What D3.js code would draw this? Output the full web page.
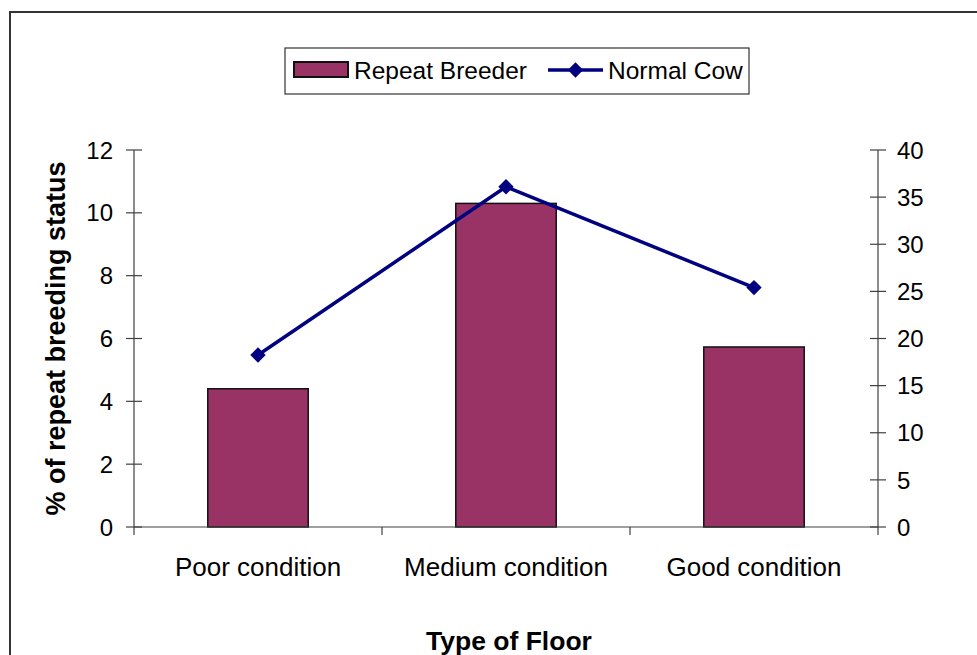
<!DOCTYPE html>
<html>
<head>
<meta charset="utf-8">
<script src="https://cdn.jsdelivr.net/npm/d3@7"></script>
<style>
  body { margin: 0; background: #fff; }
  svg text { font-family: "Liberation Sans", Arial, sans-serif; fill: #000; }
</style>
</head>
<body>
<svg id="chart" width="977" height="655"></svg>
<script>
// data
const floors = ["Poor condition", "Medium condition", "Good condition"];
const repeatBreeder = [4.4, 10.3, 5.73];
const normalCow = [18.25, 36.1, 25.4];
const leftTicks = [0, 2, 4, 6, 8, 10, 12];
const rightTicks = [0, 5, 10, 15, 20, 25, 30, 35, 40];

const svg = d3.select("#chart");
const axisColor = "#404040";

// outer frame (runs off the right and bottom edges)
svg.append("rect")
    .attr("x", 10).attr("y", 12)
    .attr("width", 1000).attr("height", 700)
    .attr("fill", "none").attr("stroke", "#333").attr("stroke-width", 2);

const plot = {left: 134, right: 878, top: 150, bottom: 527};

const x = d3.scaleBand().domain(floors).range([plot.left, plot.right]);
const yL = d3.scaleLinear().domain([0, 12]).range([plot.bottom, plot.top]);
const yR = d3.scaleLinear().domain([0, 40]).range([plot.bottom, plot.top]);

// bars
const barW = x.bandwidth() * 0.405;
svg.append("g").selectAll("rect")
    .data(repeatBreeder)
    .join("rect")
    .attr("x", (d, i) => x(floors[i]) + (x.bandwidth() - barW) / 2)
    .attr("y", d => yL(d))
    .attr("width", barW)
    .attr("height", d => yL(0) - yL(d))
    .attr("fill", "#993366")
    .attr("stroke", "#111")
    .attr("stroke-width", 1.5);

// axes
const axes = svg.append("g").attr("stroke", axisColor).attr("stroke-width", 1.2);
axes.append("line").attr("x1", plot.left).attr("x2", plot.left).attr("y1", plot.top).attr("y2", plot.bottom + 8);
axes.append("line").attr("x1", plot.right).attr("x2", plot.right).attr("y1", plot.top).attr("y2", plot.bottom + 8);
axes.append("line").attr("x1", plot.left).attr("x2", plot.right).attr("y1", plot.bottom).attr("y2", plot.bottom);

axes.selectAll(".lt").data(leftTicks).join("line")
    .attr("x1", plot.left - 8).attr("x2", plot.left + 8)
    .attr("y1", d => yL(d)).attr("y2", d => yL(d));
axes.selectAll(".rt").data(rightTicks).join("line")
    .attr("class", "rt")
    .attr("x1", plot.right - 8).attr("x2", plot.right + 8)
    .attr("y1", d => yR(d)).attr("y2", d => yR(d));
// category separators
axes.selectAll(".ct").data(floors.slice(1)).join("line")
    .attr("class", "ct")
    .attr("x1", d => x(d)).attr("x2", d => x(d))
    .attr("y1", plot.bottom).attr("y2", plot.bottom + 8);

svg.append("g").selectAll("text").data(leftTicks).join("text")
    .attr("x", plot.left - 21).attr("y", d => yL(d))
    .attr("dy", "0.36em")
    .attr("text-anchor", "end")
    .style("font-size", "24px")
    .text(d => d);

svg.append("g").selectAll("text").data(rightTicks).join("text")
    .attr("x", plot.right + 19).attr("y", d => yR(d))
    .attr("dy", "0.36em")
    .style("font-size", "24px")
    .text(d => d);

svg.append("g").selectAll("text").data(floors).join("text")
    .attr("x", d => x(d) + x.bandwidth() / 2).attr("y", 576)
    .attr("text-anchor", "middle")
    .style("font-size", "26px")
    .text(d => d);

// line series on right axis
const cx = (d, i) => x(floors[i]) + x.bandwidth() / 2;
svg.append("path")
    .datum(normalCow)
    .attr("d", d3.line().x(cx).y(d => yR(d)))
    .attr("fill", "none")
    .attr("stroke", "#000080")
    .attr("stroke-width", 3.5);

const diamond = d3.symbol().type(d3.symbolDiamond2).size(150);
svg.append("g").selectAll("path").data(normalCow).join("path")
    .attr("transform", (d, i) => `translate(${cx(d, i)},${yR(d)})`)
    .attr("d", diamond)
    .attr("fill", "#000080");

// axis titles
svg.append("text")
    .attr("transform", `translate(65,${(plot.top + plot.bottom) / 2}) rotate(-90)`)
    .attr("text-anchor", "middle")
    .style("font-size", "27px").style("font-weight", "bold")
    .text("% of repeat breeding status");

svg.append("text")
    .attr("x", 509).attr("y", 650)
    .attr("text-anchor", "middle")
    .style("font-size", "26.5px").style("font-weight", "bold")
    .text("Type of Floor");

// legend
const lg = svg.append("g");
lg.append("rect")
    .attr("x", 285).attr("y", 48).attr("width", 464).attr("height", 46)
    .attr("fill", "#fff").attr("stroke", "#333").attr("stroke-width", 1.2);
lg.append("rect")
    .attr("x", 294).attr("y", 62).attr("width", 54).attr("height", 15)
    .attr("fill", "#993366").attr("stroke", "#111").attr("stroke-width", 2);
lg.append("text")
    .attr("x", 354).attr("y", 79)
    .style("font-size", "24.5px")
    .text("Repeat Breeder");
lg.append("line")
    .attr("x1", 548).attr("x2", 603).attr("y1", 70).attr("y2", 70)
    .attr("stroke", "#000080").attr("stroke-width", 3.5);
lg.append("path")
    .attr("transform", "translate(575.5,70)")
    .attr("d", diamond)
    .attr("fill", "#000080");
lg.append("text")
    .attr("x", 608).attr("y", 79)
    .style("font-size", "24.5px")
    .text("Normal Cow");
</script>
</body>
</html>
